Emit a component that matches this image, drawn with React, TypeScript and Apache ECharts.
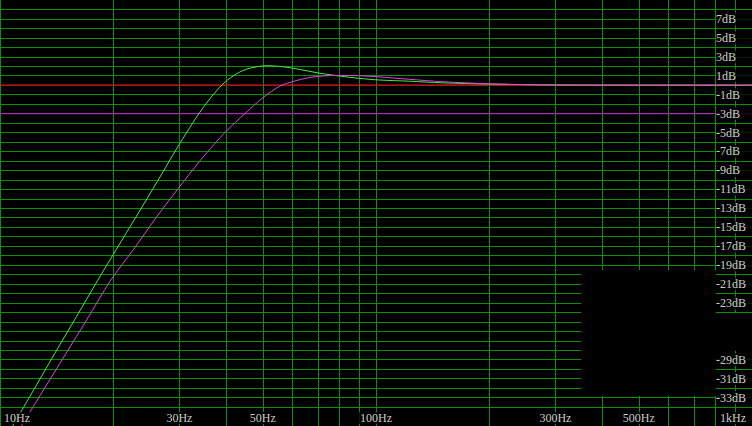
import React, { useEffect, useRef } from "react";
import * as echarts from "echarts";

// Frequency response (Hz, dB)
const greenFreq = [10.8, 12, 14, 16, 18.2, 21, 24, 27, 29.4, 32, 34, 37, 39.7, 42.5, 45.3, 48, 51, 55, 59, 63, 66, 71, 80, 90, 102, 123, 150, 200, 260, 350, 500, 1000];
const greenDb = [-36, -32.9, -28.3, -24.4, -20.6, -16.5, -12.7, -9.3, -6.8, -4.45, -2.86, -0.94, 0.33, 1.19, 1.7, 1.94, 2.06, 2.0, 1.85, 1.65, 1.5, 1.26, 0.97, 0.73, 0.55, 0.42, 0.25, 0.12, 0.05, 0.01, 0, 0];

const magentaFreq = [11.4, 13, 15, 17, 19.7, 22.6, 26, 29.8, 34, 37, 40.1, 44.8, 50.1, 55.5, 60.3, 66, 72, 80, 90, 100, 123, 150, 200, 260, 350, 500, 1000];
const magentaDb = [-36, -32.3, -28.3, -24.8, -20.6, -17.4, -14.0, -10.9, -8.0, -6.3, -4.8, -3.0, -1.3, -0.1, 0.4, 0.78, 0.97, 1.03, 1.0, 0.9, 0.62, 0.37, 0.15, 0.05, 0.01, 0, 0];

// Grid / reference lines
const vGridFreq = [10, 20, 30, 40, 50, 60, 70, 80, 90, 100, 200, 300, 400, 500, 600, 700, 800, 900];
const hGridMin = -34;
const hGridMax = 8;
const refZeroDb = 0;
const refMinus3Db = -3;
const refSpanHz = [10, 1000];

// Tick labels
const yTickValues = [7, 5, 3, 1, -1, -3, -5, -7, -9, -11, -13, -15, -17, -19, -21, -23, -25, -27, -29, -31, -33];
const xTickValues = [10, 30, 50, 100, 300, 500, 1000];
const xTickLabels = ["10Hz", "30Hz", "50Hz", "100Hz", "300Hz", "500Hz", "1kHz"];

const GRID_COLOR = "#0b8f0b";

const labelText = {
  color: "#ffffff",
  fontFamily: "Liberation Serif",
  fontSize: 12,
  backgroundColor: "#000",
};

export default function App() {
  const ref = useRef<HTMLDivElement>(null);
  useEffect(() => {
    if (!ref.current) return;
    const chart = echarts.init(ref.current, null, { renderer: "svg" });

    const hGrid: number[] = [];
    for (let v = hGridMin; v <= hGridMax; v++) {
      if (v !== refZeroDb && v !== refMinus3Db) hGrid.push(v);
    }

    const xLabelData = xTickValues.map((f, i) => {
      const item: any = { value: [f, -36], name: xTickLabels[i] };
      if (i === 0) item.label = { align: "left", offset: [3, -8] };
      if (i === xTickValues.length - 1) item.label = { align: "right", offset: [-5, -8] };
      return item;
    });

    const yLabelData = yTickValues.map((v) => ({ value: [1000, v], name: `${v}dB` }));

    const refLine = (name: string, v: number, color: string) => ({
      type: "line",
      name,
      data: refSpanHz.map((f) => [f, v]),
      z: 10,
      silent: true,
      symbol: "none",
      showSymbol: false,
      itemStyle: { color },
      lineStyle: { color, width: 1.2, opacity: 1 },
    });

    chart.setOption({
      animation: false,
      backgroundColor: "#000",
      grid: { left: 0, right: 0, top: 0, bottom: 0, containLabel: false },
      xAxis: {
        type: "log",
        logBase: 10,
        min: 10,
        max: 1000,
        axisLine: { show: false },
        axisTick: { show: false },
        axisLabel: { show: false },
        splitLine: { show: false },
        minorSplitLine: { show: false },
      },
      yAxis: {
        type: "value",
        min: -36,
        max: 9,
        interval: 1,
        axisLine: { show: false },
        axisTick: { show: false },
        splitLine: { show: false },
        axisLabel: { show: false },
      },
      graphic: [
        { type: "rect", z: 100, shape: { x: 581, y: 270, width: 135, height: 126 }, style: { fill: "#000" } },
        { type: "rect", z: 100, shape: { x: 716, y: 313, width: 36, height: 38 }, style: { fill: "#000" } },
      ],
      series: [
        {
          type: "line",
          name: "grid",
          data: [],
          z: 1,
          silent: true,
          markLine: {
            z: 1,
            symbol: ["none", "none"],
            silent: true,
            label: { show: false },
            lineStyle: { color: GRID_COLOR, width: 1, type: "solid" },
            data: [
              ...vGridFreq.map((f) => ({ xAxis: f })),
              ...hGrid.map((d) => ({ yAxis: d })),
            ],
          },
        },
        refLine("minus3", refMinus3Db, "#a82aae"),
        refLine("zero", refZeroDb, "#e01c1c"),
        {
          type: "line",
          name: "green",
          z: 11,
          data: greenFreq.map((f, i) => [f, greenDb[i]]),
          symbol: "none",
          smooth: 0.3,
          lineStyle: { color: "#44ee44", width: 1 },
        },
        {
          type: "line",
          name: "magenta",
          z: 12,
          data: magentaFreq.map((f, i) => [f, magentaDb[i]]),
          symbol: "none",
          smooth: 0.3,
          lineStyle: { color: "#dd44dd", width: 1 },
        },
        {
          type: "scatter",
          name: "xlabels",
          z: 20,
          data: xLabelData,
          symbolSize: 0,
          silent: true,
          clip: false,
          label: {
            show: true,
            position: "inside",
            offset: [0, -8],
            formatter: (p: any) => p.name,
            ...labelText,
            padding: [0, 1],
          },
        },
        {
          type: "scatter",
          name: "ylabels",
          z: 20,
          data: yLabelData,
          symbolSize: 0,
          silent: true,
          clip: false,
          label: {
            show: true,
            position: "inside",
            offset: [-36, 0],
            align: "left",
            verticalAlign: "middle",
            formatter: (p: any) => p.name,
            ...labelText,
            width: 36,
            height: 13,
            lineHeight: 13,
          },
        },
      ],
    });
    return () => chart.dispose();
  }, []);
  return (
    <div
      ref={ref}
      style={{ position: "absolute", left: 0, top: 0, width: 752, height: 426, background: "#000" }}
    />
  );
}
